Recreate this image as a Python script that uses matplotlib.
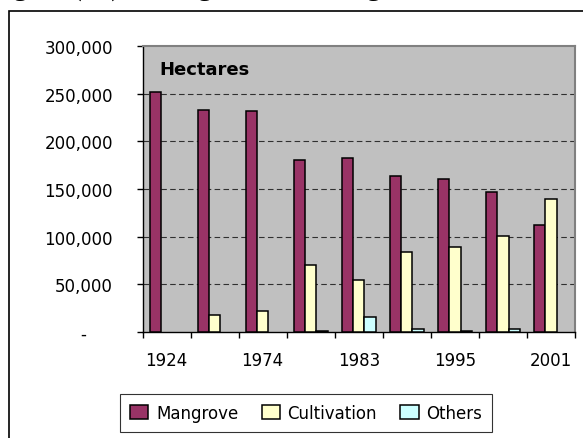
import numpy as np
import matplotlib
matplotlib.use("Agg")
import matplotlib.pyplot as plt
from matplotlib.patches import Rectangle
from matplotlib.ticker import FixedLocator, FuncFormatter, NullFormatter

years = ["1924", "1962", "1974", "1978", "1983", "1988", "1995", "1998", "2001"]
shown = ["1924", "", "1974", "", "1983", "", "1995", "", "2001"]
mangrove = [251500, 233000, 231500, 180000, 182000, 163500, 160000, 147000, 112000]
cultivation = [0, 18000, 22000, 70000, 55000, 84000, 89500, 101000, 139500]
others = [0, 0, 0, 1000, 16000, 3500, 800, 3500, 0]

plt.rcParams['font.family'] = ['DejaVu Sans']

fig = plt.figure(figsize=(5.83, 4.39), dpi=100)
ax = fig.add_axes([142.5 / 583, 106 / 439, 432.5 / 583, 286 / 439])
ax.set_facecolor("#c0c0c0")

x = np.arange(len(years)) + 0.5
w = 0.235
series = [("Mangrove", mangrove, "#993366"),
          ("Cultivation", cultivation, "#ffffcc"),
          ("Others", others, "#ccffff")]
for i, (name, vals, col) in enumerate(series):
    v = np.array(vals, dtype=float)
    keep = v > 0
    ax.bar(x[keep] + (i - 1) * w, v[keep], w, color=col, edgecolor="black",
           linewidth=1.1, label=name, zorder=3)

ax.set_xlim(0, len(years))
ax.set_ylim(0, 300000)
ax.set_yticks(np.arange(0, 300001, 50000))
ax.yaxis.set_major_formatter(FuncFormatter(lambda v, p: "-     " if v == 0 else f"{v:,.0f}"))
for yv in np.arange(50000, 300000, 50000):
    ax.axhline(yv, color="#303030", linewidth=0.8, dashes=(5, 3), zorder=1)

ax.xaxis.set_major_locator(FixedLocator(np.arange(len(years) + 1)))
ax.xaxis.set_major_formatter(NullFormatter())
ax.xaxis.set_minor_locator(FixedLocator(x))
ax.set_xticklabels(shown, minor=True)
ax.tick_params(axis="x", which="major", direction="out", length=4, width=1)
ax.tick_params(axis="x", which="minor", length=0, pad=14, labelsize=12)
ax.tick_params(axis="y", direction="out", length=4.3, width=1, pad=17, labelsize=12)

for s in ["top", "right"]:
    ax.spines[s].set_color("#808080")
    ax.spines[s].set_linewidth(1.5)
for s in ["left", "bottom"]:
    ax.spines[s].set_color("black")
    ax.spines[s].set_linewidth(1)

ax.text(0.038, 0.921, "Hectares", transform=ax.transAxes, fontsize=13,
        fontweight="bold", ha="left", va="center")

leg = fig.legend(loc="center", bbox_to_anchor=(306 / 583, 1 - 413.7 / 439), ncol=3,
                 fontsize=12, frameon=True, fancybox=False, handlelength=1.1,
                 handleheight=0.85, handletextpad=0.45, columnspacing=1.4,
                 borderpad=0.6)
leg.get_frame().set_edgecolor("black")
leg.get_frame().set_linewidth(0.8)

fig.patches.append(Rectangle((8.5 / 583, -0.1), 1.2, 1.1 - 12.5 / 439,
                             transform=fig.transFigure, fill=False,
                             edgecolor="black", linewidth=1.2))

fig.text(-10.5 / 583, 1 + 5.5 / 439, "Figure (xx): Changes in the mangrove area",
         family="Liberation Serif", fontsize=21, ha="left", va="baseline")

fig.savefig("out.png", dpi=100)
